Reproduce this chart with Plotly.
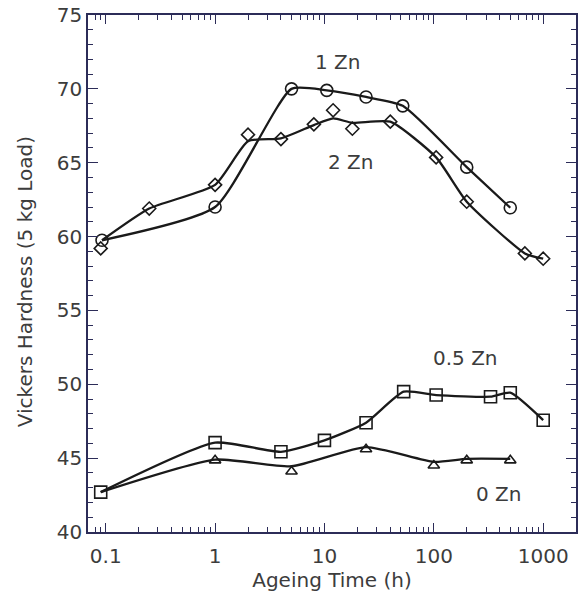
import plotly.graph_objects as go
import math

# measured points (markers)
x_1zn = [0.0925, 1, 5, 10.5, 24, 52, 200, 500]
y_1zn = [59.75, 62.0, 70.0, 69.9, 69.45, 68.85, 64.7, 61.95]

x_2zn = [0.09, 0.25, 1, 2, 4, 8, 12, 18, 40, 105, 200, 680, 1000]
y_2zn = [59.2, 61.9, 63.5, 66.9, 66.6, 67.6, 68.55, 67.3, 67.78, 65.36, 62.36, 58.86, 58.5]

x_05zn = [0.09, 1, 4, 10, 24, 53, 105, 330, 500, 1000]
y_05zn = [42.7, 46.05, 45.43, 46.2, 47.4, 49.5, 49.27, 49.16, 49.43, 47.57]

x_0zn = [1, 5, 24, 100, 200, 500]
y_0zn = [44.85, 44.1, 45.6, 44.5, 44.85, 44.85]

# smooth fitted curves
cx_1zn = [0.0925, 1, 5, 10.5, 24, 52, 200, 500]
cy_1zn = [59.75, 62.0, 70.0, 69.9, 69.45, 68.85, 64.7, 61.95]

cx_2zn = [0.0925, 0.25, 1, 2, 4, 8, 12, 18, 40, 105, 200, 680, 1000]
cy_2zn = [59.75, 61.9, 63.5, 66.45, 66.65, 67.55, 68.0, 67.7, 67.78, 65.36, 62.36, 58.86, 58.5]

cx_05zn = [0.09, 1, 4, 10, 24, 53, 105, 330, 500, 1000]
cy_05zn = [42.7, 46.05, 45.43, 46.2, 47.4, 49.5, 49.27, 49.16, 49.43, 47.57]

cx_0zn = [0.09, 1, 5, 24, 100, 200, 500]
cy_0zn = [42.7, 44.9, 44.45, 45.75, 44.75, 44.95, 44.95]

labels = ["1 Zn", "2 Zn", "0.5 Zn", "0 Zn"]
label_x = [13.2, 17.2, 195, 390]
label_y = [71.8, 65.05, 51.8, 42.6]

axis_col = "#2c2c58"
text_col = "#3c3c3c"
font_fam = "DejaVu Sans, Liberation Sans, Arial, sans-serif"
fs = 20

fig = go.Figure()

curves = [(cx_1zn, cy_1zn), (cx_2zn, cy_2zn), (cx_05zn, cy_05zn), (cx_0zn, cy_0zn)]
for xs, ys in curves:
    fig.add_trace(go.Scatter(
        x=xs, y=ys, mode="lines",
        line=dict(color="#1a1a1a", width=2.3, shape="spline", smoothing=0.55),
        showlegend=False, hoverinfo="skip",
    ))

series = [
    (x_1zn, y_1zn, "circle-open", 12),
    (x_2zn, y_2zn, "diamond-open", 10),
    (x_05zn, y_05zn, "square-open", 12),
    (x_0zn, y_0zn, "triangle-up-open", 10),
]
for xs, ys, sym, sz in series:
    fig.add_trace(go.Scatter(
        x=xs, y=ys, mode="markers",
        marker=dict(symbol=sym, size=sz, color="#1a1a1a", line=dict(width=1.6, color="#1a1a1a")),
        showlegend=False,
    ))

for t, lx, ly in zip(labels, label_x, label_y):
    fig.add_annotation(x=math.log10(lx), y=ly, text=t, showarrow=False,
                       font=dict(size=fs, color=text_col, family=font_fam))

# y-axis title as annotation (slightly below plot centre, as in reference)
fig.add_annotation(xref="paper", yref="paper", x=-0.1286, y=0.4836,
                   text="Vickers Hardness (5 kg Load)", textangle=-90, showarrow=False,
                   xanchor="center", yanchor="middle",
                   font=dict(size=fs, color=text_col, family=font_fam))

fig.update_layout(
    width=581, height=597,
    margin=dict(l=88, r=3, t=15, b=65),
    paper_bgcolor="white", plot_bgcolor="white",
    font=dict(family=font_fam, color=text_col, size=fs),
)
fig.update_xaxes(
    type="log", range=[-1.162, 3.30],
    tickvals=[0.1, 1, 10, 100, 1000], ticktext=["0.1", "1", "10", "100", "1000"],
    ticks="inside", ticklen=9, tickcolor=axis_col, tickwidth=1.2,
    minor=dict(ticks="inside", ticklen=5, tickcolor=axis_col, tickwidth=1,
               tickvals=[a * 10 ** e for e in range(-2, 4) for a in range(2, 10)]),
    showline=True, linecolor=axis_col, linewidth=1.5, mirror="allticks",
    showgrid=False, zeroline=False, ticklabelstandoff=5,
    title=dict(text="Ageing Time (h)", font=dict(size=fs, color=text_col), standoff=3),
    tickfont=dict(size=fs, color=text_col),
)
fig.update_yaxes(
    range=[40, 75], dtick=5,
    ticks="inside", ticklen=10, tickcolor=axis_col, tickwidth=1.2,
    minor=dict(ticks="inside", ticklen=5, dtick=1, tickcolor=axis_col, tickwidth=1),
    showline=True, linecolor=axis_col, linewidth=1.5, mirror="allticks",
    showgrid=False, zeroline=False,
    tickfont=dict(size=fs, color=text_col),
)

fig.write_html("out.html")
